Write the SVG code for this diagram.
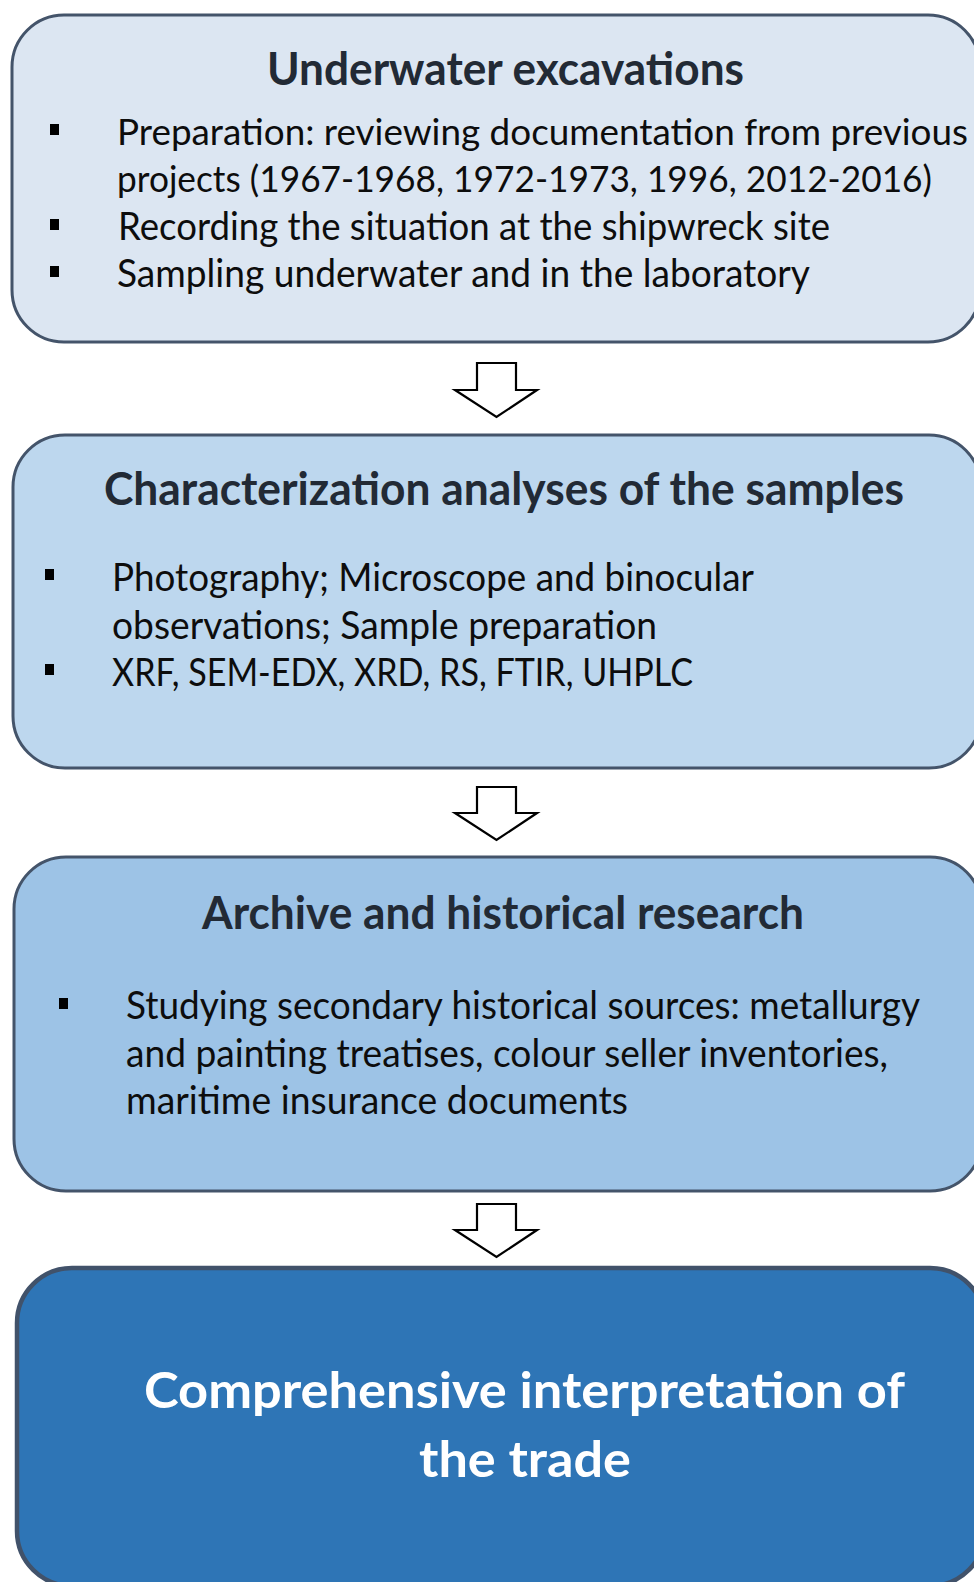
<svg xmlns="http://www.w3.org/2000/svg" width="974" height="1582" viewBox="0 0 974 1582">
  <style>
    .box { stroke: #44546a; stroke-width: 3; }
    .b1 { fill: #dce6f2; }
    .b2 { fill: #bdd7ee; }
    .b3 { fill: #9dc3e6; }
    .b4 { fill: #2e75b6; stroke: #41526a; stroke-width: 4.5; }
    .title { font-family: Lato, "Liberation Sans", sans-serif; font-weight: bold; font-size: 45px; fill: #222a35; }
    .body { font-family: Lato, "Liberation Sans", sans-serif; font-size: 38px; fill: #0d0d0d; }
    .tight { font-size: 36px; }
    .final { font-family: Lato, "Liberation Sans", sans-serif; font-weight: bold; font-size: 49px; fill: #ffffff; }
    .bullet { fill: #000000; }
    .arrow { fill: #ffffff; stroke: #000000; stroke-width: 2.2; stroke-linejoin: miter; }
  </style>
  <rect width="974" height="1582" fill="#ffffff"/>

  <g id="node-underwater">
    <rect class="box b1" x="12" y="15" width="968" height="327" rx="52" ry="52"/>
    <text class="title" x="267" y="85" textLength="477" lengthAdjust="spacingAndGlyphs">Underwater excavations</text>
    <rect class="bullet" x="50" y="124" width="9" height="11"/>
    <text class="body tight" x="117" y="145" textLength="851" lengthAdjust="spacingAndGlyphs">Preparation: reviewing documentation from previous</text>
    <text class="body tight" x="117" y="192" textLength="815" lengthAdjust="spacingAndGlyphs">projects (1967-1968, 1972-1973, 1996, 2012-2016)</text>
    <rect class="bullet" x="50" y="219" width="9" height="11"/>
    <text class="body" x="118" y="240" textLength="712" lengthAdjust="spacingAndGlyphs">Recording the situation at the shipwreck site</text>
    <rect class="bullet" x="50" y="266" width="9" height="11"/>
    <text class="body" x="117" y="287" textLength="693" lengthAdjust="spacingAndGlyphs">Sampling underwater and in the laboratory</text>
  </g>

  <g id="node-characterization">
    <rect class="box b2" x="13" y="435" width="968" height="333" rx="52" ry="52"/>
    <text class="title" x="104" y="505" textLength="800" lengthAdjust="spacingAndGlyphs">Characterization analyses of the samples</text>
    <rect class="bullet" x="45" y="569" width="9" height="11"/>
    <text class="body" x="112" y="591" textLength="642" lengthAdjust="spacingAndGlyphs">Photography; Microscope and binocular</text>
    <text class="body" x="112" y="639" textLength="545" lengthAdjust="spacingAndGlyphs">observations; Sample preparation</text>
    <rect class="bullet" x="45" y="664" width="9" height="11"/>
    <text class="body" x="112" y="686" textLength="581" lengthAdjust="spacingAndGlyphs">XRF, SEM-EDX, XRD, RS, FTIR, UHPLC</text>
  </g>

  <g id="node-archive">
    <rect class="box b3" x="14" y="857" width="968" height="334" rx="52" ry="52"/>
    <text class="title" x="202" y="929" textLength="602" lengthAdjust="spacingAndGlyphs">Archive and historical research</text>
    <rect class="bullet" x="59" y="998" width="9" height="11"/>
    <text class="body" x="126" y="1019" textLength="794" lengthAdjust="spacingAndGlyphs">Studying secondary historical sources: metallurgy</text>
    <text class="body" x="126" y="1067" textLength="762" lengthAdjust="spacingAndGlyphs">and painting treatises, colour seller inventories,</text>
    <text class="body" x="126" y="1114" textLength="502" lengthAdjust="spacingAndGlyphs">maritime insurance documents</text>
  </g>

  <g id="node-interpretation">
    <rect class="box b4" x="17" y="1268" width="968" height="318" rx="55" ry="55"/>
    <text class="final" x="144" y="1408" textLength="761" lengthAdjust="spacingAndGlyphs">Comprehensive interpretation of</text>
    <text class="final" x="419" y="1477" textLength="212" lengthAdjust="spacingAndGlyphs">the trade</text>
  </g>

  <g id="connectors">
    <path class="arrow" d="M477,363 H516 V390 H537 L496.5,417 L455,390 H477 Z"/>
    <path class="arrow" d="M477,787 H516 V813 H537 L496.5,840 L455,813 H477 Z"/>
    <path class="arrow" d="M477,1204 H516 V1230 H537 L496.5,1257 L455,1230 H477 Z"/>
  </g>
</svg>
